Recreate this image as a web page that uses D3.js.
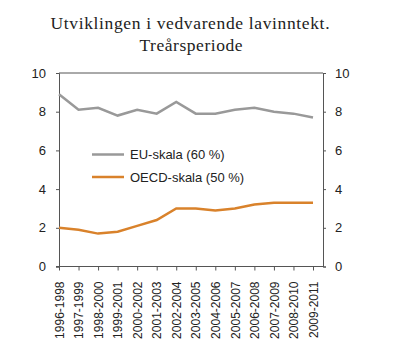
<!DOCTYPE html>
<html>
<head>
<meta charset="utf-8">
<script src="https://cdn.jsdelivr.net/npm/d3@7"></script>
<style>
  body { margin: 0; background: #fff; }
</style>
</head>
<body>
<div id="chart"></div>
<script>
const periods = ["1996-1998", "1997-1999", "1998-2000", "1999-2001", "2000-2002", "2001-2003", "2002-2004",
  "2003-2005", "2004-2006", "2005-2007", "2006-2008", "2007-2009", "2008-2010", "2009-2011"];
const euValues = [8.9, 8.1, 8.2, 7.8, 8.1, 7.9, 8.5, 7.9, 7.9, 8.1, 8.2, 8.0, 7.9, 7.7];
const oecdValues = [2.0, 1.9, 1.7, 1.8, 2.1, 2.4, 3.0, 3.0, 2.9, 3.0, 3.2, 3.3, 3.3, 3.3];
const seriesNames = ["EU-skala (60 %)", "OECD-skala (50 %)"];
const yTicks = [0, 2, 4, 6, 8, 10];

const width = 400, height = 359;
const margin = { top: 73, right: 77, bottom: 92, left: 59 };
const axisColor = "#555";
const textColor = "#222";
const colors = ["#999999", "#d9822b"];

const svg = d3.select("#chart").append("svg")
  .attr("width", width)
  .attr("height", height);

// title
const title = svg.append("text")
  .attr("text-anchor", "middle")
  .attr("font-family", "Liberation Serif, Times New Roman, serif")
  .attr("font-size", 17.5)
  .attr("fill", textColor);
title.append("tspan").attr("x", 190).attr("y", 29)
  .attr("textLength", 279).attr("lengthAdjust", "spacing")
  .text("Utviklingen i vedvarende lavinntekt.");
title.append("tspan").attr("x", 191).attr("y", 51)
  .attr("textLength", 103).attr("lengthAdjust", "spacing")
  .text("Treårsperiode");

const x = d3.scalePoint()
  .domain(periods)
  .range([margin.left, 313]);

const rightX = width - margin.right;

const y = d3.scaleLinear()
  .domain([0, 10])
  .range([height - margin.bottom - 0.5, margin.top]);

// frame top
svg.append("line")
  .attr("x1", margin.left).attr("x2", rightX)
  .attr("y1", y(10)).attr("y2", y(10))
  .attr("stroke", axisColor);

// axes
const leftAxis = svg.append("g")
  .attr("transform", `translate(${margin.left},0)`)
  .call(d3.axisLeft(y).tickValues(yTicks).tickSize(3).tickPadding(10));
const rightAxis = svg.append("g")
  .attr("transform", `translate(${rightX},0)`)
  .call(d3.axisRight(y).tickValues(yTicks).tickSize(3).tickPadding(9));
const bottomAxis = svg.append("g")
  .attr("transform", `translate(0,${y(0)})`)
  .call(d3.axisBottom(x).tickSize(4).tickPadding(0));

// extend bottom domain to the right axis
bottomAxis.select(".domain").attr("d", `M${margin.left - 3},0H${rightX}`);

[leftAxis, rightAxis, bottomAxis].forEach((g) => {
  g.selectAll(".domain, line").attr("stroke", axisColor);
  g.selectAll("text")
    .attr("fill", textColor)
    .attr("font-family", "Liberation Sans, Arial, sans-serif")
    .attr("font-size", 13);
});

bottomAxis.selectAll("text")
  .attr("transform", "rotate(-90)")
  .attr("text-anchor", "end")
  .attr("x", -15)
  .attr("y", 0)
  .attr("dy", "0.35em")
  .attr("font-size", 12);

// lines
const line = d3.line()
  .x((d, i) => x(periods[i]))
  .y((d) => y(d));

[euValues, oecdValues].forEach((vals, i) => {
  svg.append("path")
    .datum(vals)
    .attr("fill", "none")
    .attr("stroke", colors[i])
    .attr("stroke-width", 2.5)
    .attr("d", line);
});

// legend
const legend = svg.append("g");
seriesNames.forEach((name, i) => {
  const ly = 154.5 + i * 22.5;
  legend.append("line")
    .attr("x1", 92).attr("x2", 124)
    .attr("y1", ly).attr("y2", ly)
    .attr("stroke", colors[i])
    .attr("stroke-width", 2.5);
  legend.append("text")
    .attr("x", 130).attr("y", ly)
    .attr("dy", "0.35em")
    .attr("fill", textColor)
    .attr("font-family", "Liberation Sans, Arial, sans-serif")
    .attr("font-size", 13)
    .text(name);
});
</script>
</body>
</html>
